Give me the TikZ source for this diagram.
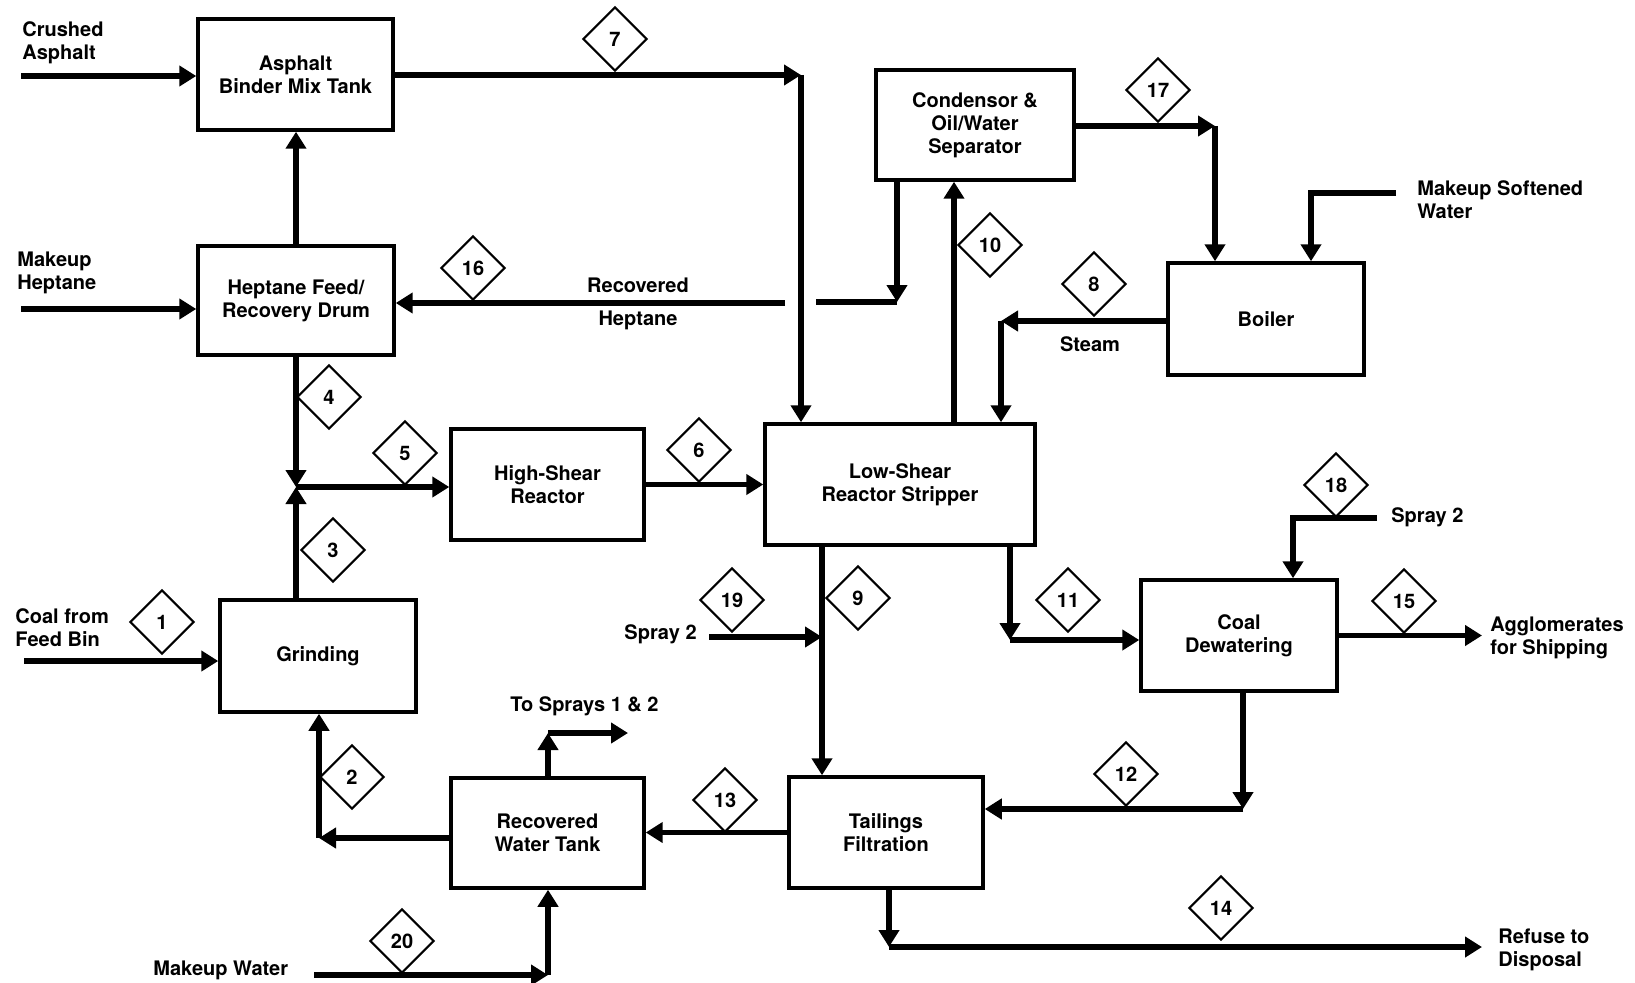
\documentclass[tikz,border=0pt]{standalone}
\usepackage{fontspec}
\setmainfont{TeX Gyre Heros}
\usetikzlibrary{arrows.meta, shapes.geometric}

\begin{document}
\begin{tikzpicture}[x=0.02cm, y=-0.02cm,
    font=\bfseries\fontsize{11.4}{13.1}\selectfont,
    box/.style={draw, line width=2pt, inner sep=0pt, align=center, minimum width=3.9cm, minimum height=2.2cm},
    tag/.style={draw, diamond, aspect=1, minimum size=1.28cm, inner sep=0pt, line width=1.2pt, fill=white},
    flow/.style={line width=3.1pt, -{Triangle[length=0.34cm, width=0.4cm]}},
    pipe/.style={line width=3.1pt},
    lbl/.style={align=left, inner sep=0pt}]
    \useasboundingbox (0,0) rectangle (1635,983);

    \node[box, minimum height=2.22cm] (mix) at (295.5,74.5) {Asphalt\\Binder Mix Tank};
    \node[box, minimum width=3.92cm, minimum height=2.18cm] (drum) at (296,300.5) {Heptane Feed/\\Recovery Drum};
    \node[box, minimum width=3.86cm, minimum height=2.22cm] (hsr) at (547.5,484.5) {High-Shear\\Reactor};
    \node[box, minimum width=5.4cm, minimum height=2.42cm] (lsr) at (900,484.5) {Low-Shear\\Reactor Stripper};
    \node[box, minimum width=3.96cm] (cond) at (975,125) {Condensor \&\\Oil/Water\\Separator};
    \node[box, minimum width=3.92cm, minimum height=2.24cm] (boil) at (1266,319) {Boiler};
    \node[box, minimum width=3.92cm, minimum height=2.24cm] (grind) at (318,656) {Grinding};
    \node[box, minimum width=3.92cm, minimum height=2.22cm] (dew) at (1239,635.5) {Coal\\Dewatering};
    \node[box, minimum width=3.86cm] (rwt) at (547.5,833) {Recovered\\Water Tank};
    \node[box, minimum width=3.88cm, minimum height=2.22cm] (tail) at (886,832.5) {Tailings\\Filtration};

    \coordinate (inA) at (21,76);   \coordinate (inH) at (21,309);  \coordinate (in1) at (24,661);
    \coordinate (j) at (296,487);   \coordinate (c7) at (801,75);
    \coordinate (c16) at (897,302); \coordinate (g16) at (816,302); \coordinate (h16) at (785,303);
    \coordinate (x10) at (954,300); \coordinate (c17) at (1215,126);
    \coordinate (msw) at (1396,193); \coordinate (cmsw) at (1311,193); \coordinate (c8) at (1001,321);
    \coordinate (c2) at (319,838);  \coordinate (c21) at (548,733); \coordinate (spr) at (628,733);
    \coordinate (mw) at (314,975);  \coordinate (c20) at (548,975);
    \coordinate (c9) at (822,637);  \coordinate (s19) at (709,637); \coordinate (c11) at (1010,640);
    \coordinate (s18) at (1377,518); \coordinate (c18) at (1293,518); \coordinate (agg) at (1482,636);
    \coordinate (c12) at (1243,809); \coordinate (c14) at (889,947); \coordinate (ref) at (1482,947);

    \draw[flow] (inA) -- (inA -| mix.west);
    \draw[flow] (c7 -| mix.east) -- (c7); \draw[flow] (c7) -- (c7 |- lsr.north);
    \draw[flow] (j |- drum.north) -- (j |- mix.south);
    \draw[flow] (inH) -- (inH -| drum.west);
    \draw[flow] (c16 |- cond.south) -- (c16); \draw[pipe] (g16) -- (c16);
    \draw[flow] (h16) -- (h16 -| drum.east);
    \draw[flow] (x10 |- lsr.north) -- (x10 |- cond.south);
    \draw[flow] (c17 -| cond.east) -- (c17); \draw[flow] (c17) -- (c17 |- boil.north);
    \draw[flow] (msw) -- (cmsw) -- (cmsw |- boil.north);
    \draw[flow] (c8 -| boil.west) -- (c8); \draw[flow] (c8) -- (c8 |- lsr.north);
    \draw[flow] (j |- drum.south) -- (j); \draw[flow] (j |- grind.north) -- (j);
    \draw[flow] (j) -- (j -| hsr.west);
    \draw[flow] (hsr.east) -- (hsr.east -| lsr.west);
    \draw[flow] (in1) -- (in1 -| grind.west);
    \draw[flow] (c2 -| rwt.west) -- (c2); \draw[flow] (c2) -- (c2 |- grind.south);
    \draw[flow] (c21 |- rwt.north) -- (c21); \draw[flow] (c21) -- (spr);
    \draw[flow] (mw) -- (c20); \draw[flow] (c20) -- (c20 |- rwt.south);
    \draw[flow] (tail.west) -- (tail.west -| rwt.east);
    \draw[flow] (c9 |- lsr.south) -- (c9 |- tail.north);
    \draw[flow] (s19) -- (c9);
    \draw[flow] (c11 |- lsr.south) -- (c11); \draw[flow] (c11) -- (c11 -| dew.west);
    \draw[flow] (s18) -- (c18) -- (c18 |- dew.north);
    \draw[flow] (dew.east) -- (dew.east -| agg);
    \draw[flow] (c12 |- dew.south) -- (c12); \draw[flow] (c12) -- (c12 -| tail.east);
    \draw[flow] (c14 |- tail.south) -- (c14); \draw[flow] (c14) -- (ref);

    \node[tag] (t1) at (162,622) {1};   \node[tag] (t2) at (352,777) {2};
    \node[tag] (t3) at (333,550) {3};   \node[tag] (t4) at (329,397) {4};
    \node[tag] (t5) at (405,453) {5};   \node[tag] (t6) at (699,450) {6};
    \node[tag] (t7) at (615,39) {7};    \node[tag] (t8) at (1094,284) {8};
    \node[tag] (t9) at (858,598) {9};   \node[tag] (t10) at (990,245) {10};
    \node[tag] (t11) at (1068,600) {11}; \node[tag] (t12) at (1126,774) {12};
    \node[tag] (t13) at (725,800) {13}; \node[tag] (t14) at (1221,908) {14};
    \node[tag] (t15) at (1404,601) {15}; \node[tag] (t16) at (473,268) {16};
    \node[tag] (t17) at (1158,90) {17}; \node[tag] (t18) at (1336,485) {18};
    \node[tag] (t19) at (732,600) {19}; \node[tag] (t20) at (402,941) {20};

    \node[lbl, anchor=west] (lA) at (22,43) {Crushed\\Asphalt};
    \node[lbl, anchor=west] (lH) at (17,273) {Makeup\\Heptane};
    \node[lbl, anchor=west] (lC) at (15,628) {Coal from\\Feed Bin};
    \node[lbl, anchor=west] (lMW) at (153,970) {Makeup Water};
    \node[lbl, anchor=west] (lTS) at (510,706) {To Sprays 1 \& 2};
    \node[lbl, anchor=east] (lS19) at (697,634) {Spray 2};
    \node[lbl, anchor=west] (lS18) at (1391,517) {Spray 2};
    \node[lbl, anchor=west] (lAg) at (1490,638) {Agglomerates\\for Shipping};
    \node[lbl, anchor=west] (lRf) at (1498,950) {Refuse to\\Disposal};
    \node[lbl, anchor=west] (lSW) at (1417,200) {Makeup Softened\\Water};
    \node[lbl] (lSt) at (1090,344) {Steam};
    \node[lbl] (lRH1) at (638,285) {Recovered};
    \node[lbl] (lRH2) at (638,320) {Heptane};
  \end{tikzpicture}
\end{document}
